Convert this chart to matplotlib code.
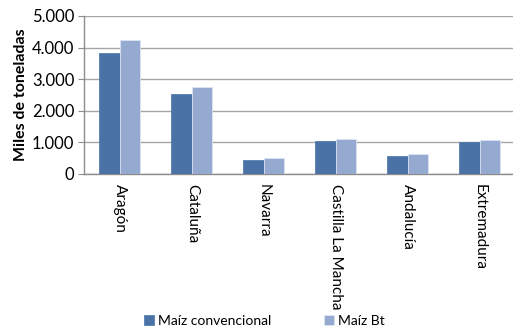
import numpy as np
import matplotlib.pyplot as plt
from matplotlib.ticker import FuncFormatter

# production by region (thousands of tonnes)
regions = ["Aragón", "Cataluña", "Navarra", "Castilla La Mancha", "Andalucía", "Extremadura"]
maiz_conv = [3830, 2540, 445, 1035, 570, 1015]
maiz_bt = [4235, 2745, 497, 1105, 622, 1085]
series_names = ["Maíz convencional", "Maíz Bt"]

plt.rcParams['font.family'] = ['Lato', 'DejaVu Sans']

fig = plt.figure(figsize=(5.13, 3.32), dpi=100)
ax = fig.add_axes([0.1637, 0.476, 0.842, 0.476])

x = np.arange(len(regions))
w = 0.285
ax.bar(x - w / 2, maiz_conv, w, color='#4A72A6', edgecolor='#4A72A6', linewidth=0.5,
       label=series_names[0], zorder=3)
ax.bar(x + w / 2, maiz_bt, w, color='#95A9D1', edgecolor='#DCE4F2', linewidth=0.6,
       label=series_names[1], zorder=3)

ax.set_xlim(-0.5, len(regions) - 0.5)
ax.set_ylim(0, 5000)
ax.set_yticks(np.arange(0, 5001, 1000))
ax.yaxis.set_major_formatter(FuncFormatter(lambda v, p: f"{int(v):,}".replace(",", ".")))
ax.grid(axis='y', color='#A6A6A6', linewidth=1, zorder=0)

ax.set_xticks(x)
ax.set_xticklabels(regions, rotation=270, fontsize=11, va='top', ha='center')
ax.tick_params(axis='x', length=0, pad=7)
ax.tick_params(axis='y', length=4, color='#8C8C8C', labelsize=12, pad=3)

for s in ['top', 'right']:
    ax.spines[s].set_visible(False)
for s in ['left', 'bottom']:
    ax.spines[s].set_color('#8C8C8C')
    ax.spines[s].set_linewidth(1)

ax.set_ylabel("Miles de toneladas", fontsize=11.5, fontweight='bold', labelpad=3)

fig.legend(loc='center', bbox_to_anchor=(0.515, 0.034), ncol=2, frameon=False,
           fontsize=10, handlelength=0.7, handleheight=0.7, handletextpad=0.3,
           columnspacing=3.8)

fig.savefig("out.png", dpi=100)
